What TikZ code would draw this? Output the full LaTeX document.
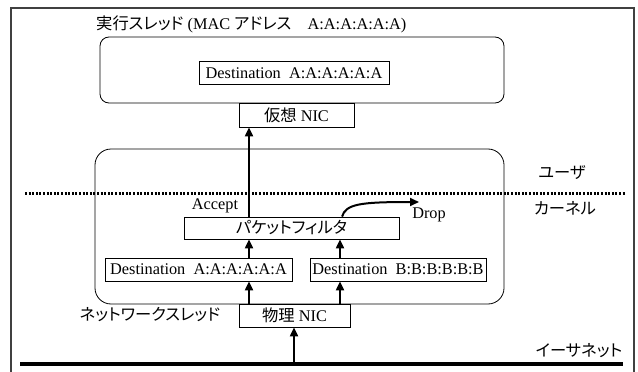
\documentclass[tikz,border=0pt]{standalone}
\usepackage{fontspec}
\setmainfont{Liberation Serif}
\newfontfamily\jp[RawFeature=+palt]{Noto Sans CJK JP}
\usetikzlibrary{arrows.meta}
\tikzset{
  box/.style={draw, line width=0.8pt, inner sep=0pt, minimum height=23pt, font=\fontsize{16.3}{17}\selectfont},
  group/.style={draw, line width=0.8pt},
  arr/.style={line width=2pt, -{Triangle[length=9pt,width=8pt]}},
  lbl/.style={inner sep=0pt, font=\fontsize{16.3}{17}\selectfont},
}
\begin{document}
\begin{tikzpicture}[x=1pt,y=-1pt]
\useasboundingbox (0,0) rectangle (638,372);
% outer frame
\draw[line width=1.2pt, black!75] (11,380) -- (11,8) -- (634,8) -- (634,380);
% title
\node[lbl, anchor=west] (title) at (96,24) {{\jp 実行スレッド} (MAC {\jp アドレス}\quad A:A:A:A:A:A)};
% upper thread box
\draw[group, rounded corners=9pt] (100,37) rectangle (504,103);
\node[box, minimum width=190pt] (dtop) at (294,73) {Destination\ \ A:A:A:A:A:A};
\node[box, minimum width=115pt, minimum height=24pt] (vnic) at (296.5,115) {{\jp 仮想} NIC};
% lower thread box
\draw[group, rounded corners=16pt] (95,149) rectangle (504,304);
\node[box, minimum width=215pt, minimum height=22pt] (filter) at (291.5,228) {\jp パケットフィルタ};
\node[box, minimum width=187pt] (dsta) at (198.5,269.5) {Destination\ \ A:A:A:A:A:A};
\node[box, minimum width=176pt] (dstb) at (398,269.5) {Destination\ \ B:B:B:B:B:B};
\node[box, minimum width=111pt] (pnic) at (294.5,315.5) {{\jp 物理} NIC};
% user/kernel boundary
\draw[line width=3pt, dash pattern=on 2pt off 1.6pt] (25,193) -- (625,193);
\node[lbl] (user) at (562,173) {\jp ユーザ};
\node[lbl] (kern) at (565,208) {\jp カーネル};
% ethernet
\coordinate (e1) at (20,364);
\coordinate (e2) at (623,364);
\draw[line width=4pt] (e1) -- (e2);
\node[lbl] (eth) at (579,351) {\jp イーサネット};
\node[lbl] (nthr) at (150,315) {\jp ネットワークスレッド};
% arrows
\coordinate (xa) at (249,0);
\coordinate (xb) at (340,0);
\coordinate (xe) at (294,364);
\draw[arr] (xe) -- (pnic.south -| xe);
\draw[arr] (pnic.north -| xa) -- (dsta.south -| xa);
\draw[arr] (dsta.north -| xa) -- (filter.south -| xa);
\draw[arr] (filter.north -| xa) -- (vnic.south -| xa);
\draw[arr] (pnic.north -| xb) -- (dstb.south -| xb);
\draw[arr] (dstb.north -| xb) -- (filter.south -| xb);
\coordinate (dropend) at (419,202);
\draw[arr] (filter.north -| 342,0) .. controls (346,204) and (360,202) .. (dropend);
\node[lbl] (accept) at (215,206) {Accept};
\node[lbl] (drop) at (429,215) {Drop};
\end{tikzpicture}
\end{document}
